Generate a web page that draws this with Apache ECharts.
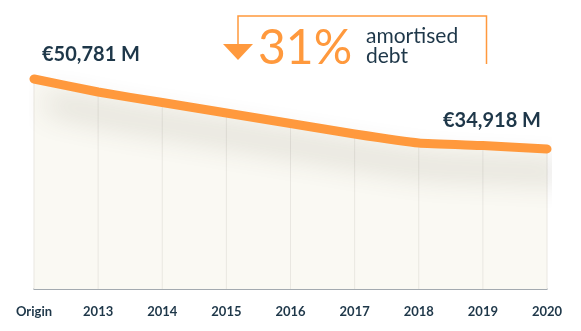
<!DOCTYPE html>
<html>
<head>
<meta charset="utf-8">
<script src="https://cdn.jsdelivr.net/npm/echarts@6/dist/echarts.min.js"></script>
<style>
html,body{margin:0;padding:0;background:#fff;}
#chart{width:581px;height:331px;}
</style>
</head>
<body>
<div id="chart"></div>
<script>
const categories = ['Origin', '2013', '2014', '2015', '2016', '2017', '2018', '2019', '2020'];
const debtValues = [50781, 47835, 45456, 43077, 40697, 38318, 36279, 35712, 34918];
const amortisedPct = '31%';
const amortisedText = ['amortised', 'debt'];

const ORANGE = '#ff993d';
const NAVY = '#1e3749';
const fmt = v => '€' + v.toLocaleString('en-US') + ' M';
const last = debtValues.length - 1;

const lineData = debtValues.map((v, i) => {
  const item = { value: v };
  if (i === 0 || i === last) {
    item.label = {
      show: true,
      formatter: p => fmt(p.value),
      position: 'inside',
      offset: i === 0 ? [57, -24] : [-55, -28],
      color: NAVY,
      fontFamily: 'Lato',
      fontWeight: 'bold',
      fontSize: 20
    };
  }
  return item;
});

const chart = echarts.init(document.getElementById('chart'), null, { renderer: 'canvas' });
chart.setOption({
  animation: false,
  grid: { left: 34, right: 34, top: 40, bottom: 42 },
  xAxis: {
    type: 'category',
    data: categories,
    boundaryGap: false,
    axisLine: { lineStyle: { color: '#858f97', width: 1.5 } },
    axisTick: { show: false },
    splitLine: { show: false },
    axisLabel: { color: NAVY, fontFamily: 'Lato', fontSize: 13, fontWeight: 'bold', margin: 16 }
  },
  yAxis: {
    type: 'value',
    min: 3200,
    max: 59620,
    show: false,
    splitLine: { show: false }
  },
  series: [
    {
      type: 'line',
      data: debtValues,
      smooth: 0.12,
      symbol: 'none',
      lineStyle: { width: 0 },
      areaStyle: { color: '#faf9f3', opacity: 1 },
      z: 1
    },
    {
      type: 'bar',
      data: debtValues,
      barWidth: 1,
      itemStyle: { color: '#e9e7e1' },
      z: 2
    },
    {
      type: 'line',
      data: lineData,
      smooth: 0.12,
      symbol: 'circle',
      symbolSize: 1,
      showSymbol: true,
      itemStyle: { color: ORANGE },
      lineStyle: {
        color: ORANGE,
        width: 9,
        cap: 'round',
        join: 'round',
        shadowColor: 'rgba(80,70,50,0.33)',
        shadowBlur: 30,
        shadowOffsetX: 16,
        shadowOffsetY: 24
      },
      z: 3
    }
  ],
  graphic: [
    {
      type: 'polyline',
      shape: { points: [[238, 44], [238, 16], [486.5, 16], [486.5, 64]] },
      style: { stroke: ORANGE, lineWidth: 1.5, fill: null }
    },
    {
      type: 'polygon',
      shape: { points: [[223, 44], [253, 44], [238, 60]] },
      style: { fill: ORANGE }
    },
    {
      type: 'text',
      style: {
        text: amortisedPct, x: 258, y: 49,
        fill: ORANGE, font: '48px Lato',
        textVerticalAlign: 'middle'
      }
    },
    {
      type: 'text',
      style: {
        text: amortisedText[0], x: 366, y: 36,
        fill: NAVY, font: '21px Lato',
        textVerticalAlign: 'middle'
      }
    },
    {
      type: 'text',
      style: {
        text: amortisedText[1], x: 366, y: 56,
        fill: NAVY, font: '21px Lato',
        textVerticalAlign: 'middle'
      }
    }
  ]
});
</script>
</body>
</html>
